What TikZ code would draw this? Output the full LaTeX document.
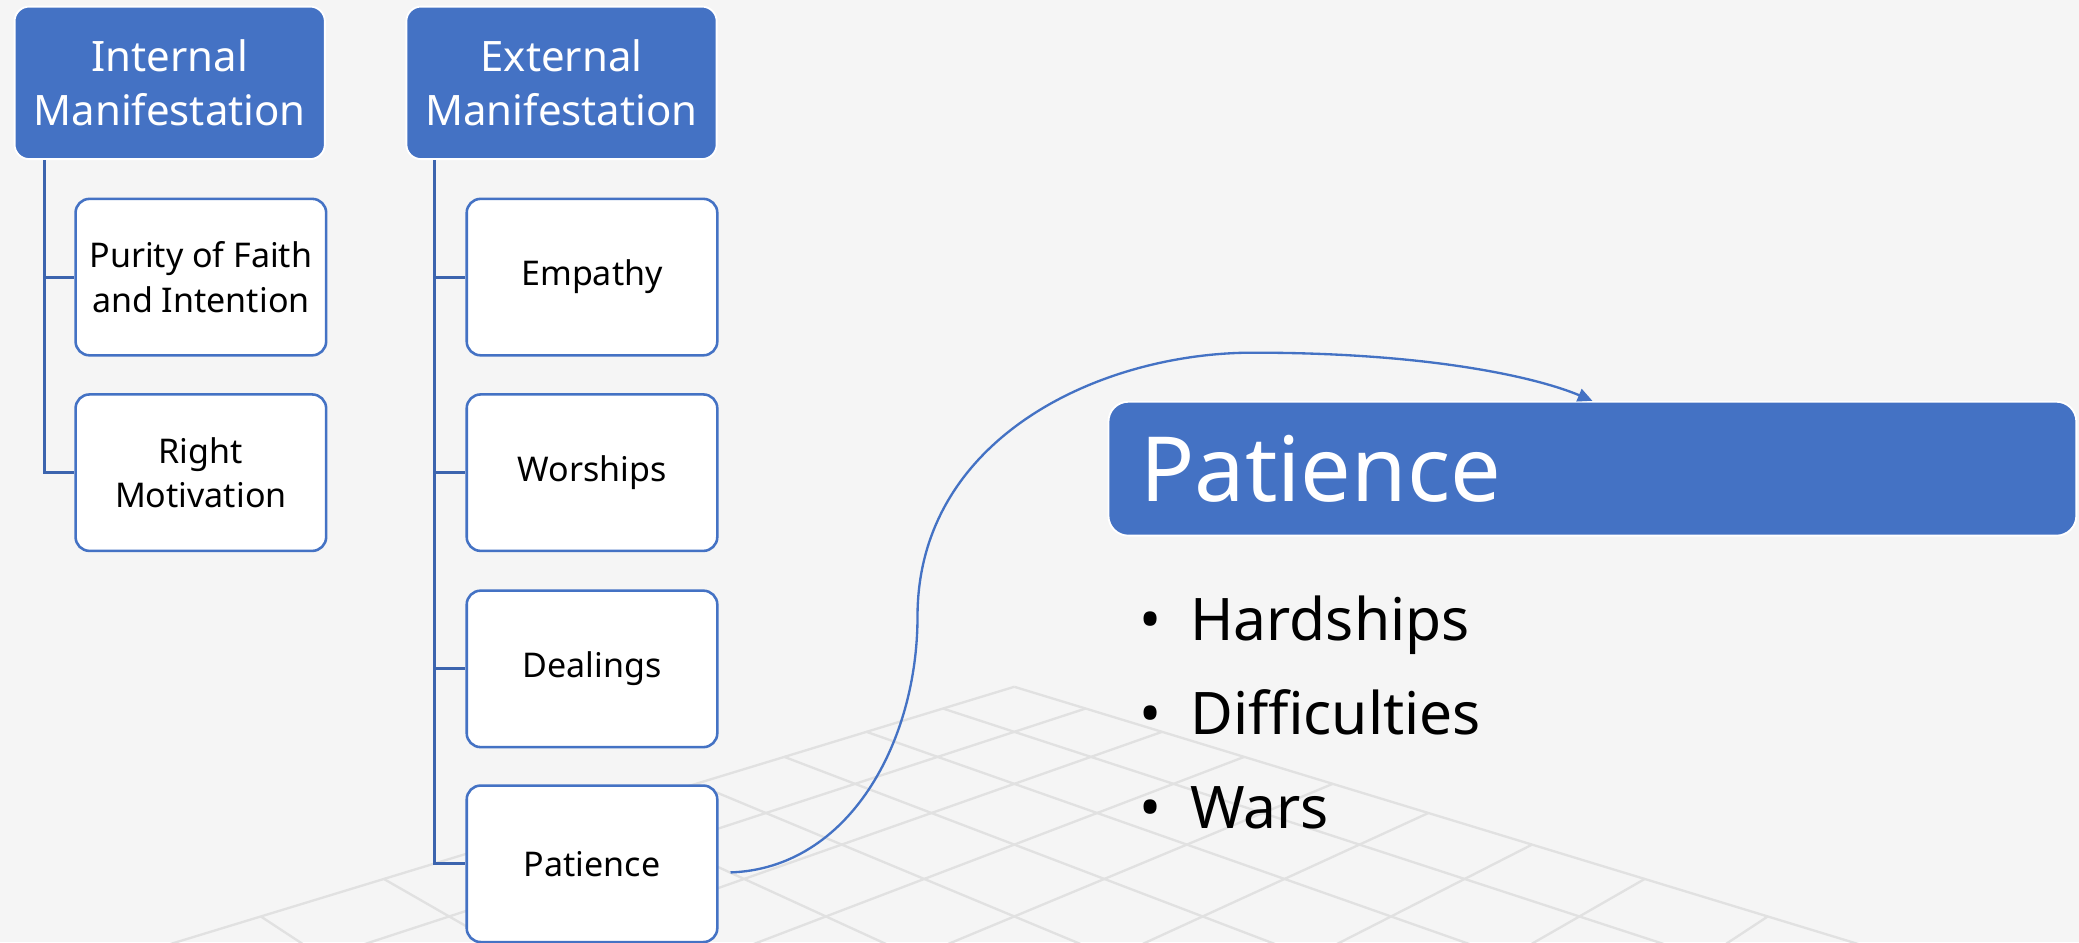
\documentclass[tikz,border=0pt]{standalone}
\usepackage{fontspec}
\setmainfont{Noto Sans}
\usetikzlibrary{arrows.meta}
\definecolor{hdblue}{HTML}{4472C4}
\definecolor{lnblue}{HTML}{3C64AE}
\definecolor{bggray}{HTML}{F5F5F5}
\definecolor{grdgray}{HTML}{E1E1E1}

\begin{document}
\begin{tikzpicture}[x=0.1mm, y=-0.1mm,
	headbox/.style={rectangle, rounded corners=1.1mm, fill=hdblue, draw=white, line width=0.4pt, text=white, align=center, minimum width=23.4mm, minimum height=11.5mm, font=\fontsize{9}{11.5}\selectfont},
	itembox/.style={rectangle, rounded corners=1.05mm, fill=white, draw=hdblue, line width=0.55pt, align=center, inner xsep=0.5mm, minimum width=18.9mm, minimum height=11.8mm, font=\fontsize{7.3}{9.6}\selectfont},
	bighead/.style={rectangle, rounded corners=1.5mm, fill=hdblue, draw=white, line width=0.4pt, text=white, align=left, minimum height=10.1mm, text width=68.2mm, inner xsep=2.4mm, font=\fontsize{19.3}{23}\selectfont},
	bulletline/.style={anchor=base west, inner sep=0pt, font=\fontsize{12.6}{16}\selectfont},
	treeline/.style={lnblue, line width=0.65pt},
	curveline/.style={hdblue, line width=0.5pt, -{Triangle[length=1.1mm, width=1mm]}},
	gridline/.style={grdgray, line width=0.5pt}]
			%%%%% START %%%%%
			\fill[bggray] (0, 0) rectangle (1568, 710.5);
			\useasboundingbox (0, 0) rectangle (1568, 710.5);
			
			\begin{scope}
				\clip (0, 0) rectangle (1568, 710.5);
				\foreach \n in {0,...,12}{
					\pgfmathsetmacro\wa{1-0.0335*\n}
					\pgfmathsetmacro\wb{1-0.0335*(\n+12)}
					\draw[gridline] ({765+52*\n/\wa}, {518+15.85*\n/\wa}) -- ({765+52*(\n-12)/\wb}, {518+15.85*(\n+12)/\wb});
					\draw[gridline] ({765-52*\n/\wa}, {518+15.85*\n/\wa}) -- ({765-52*(\n-12)/\wb}, {518+15.85*(\n+12)/\wb});
				}
			\end{scope}
			
			\node[headbox] (inthead) at (128, 62.5) {Internal\\Manifestation};
			\node[headbox] (exthead) at (423.5, 62.5) {External\\Manifestation};
			
			\node[itembox] (purity) at (151.5, 209) {Purity of Faith\\and Intention};
			\node[itembox] (motiv) at (151.5, 356.5) {Right\\Motivation};
			
			\node[itembox] (empathy) at (446.5, 209) {Empathy};
			\node[itembox] (worship) at (446.5, 356.5) {Worships};
			\node[itembox] (dealing) at (446.5, 504.5) {Dealings};
			\node[itembox] (patience) at (446.5, 651.5) {Patience};
			
			\draw[treeline] ([xshift=2.3mm]inthead.south west) |- (purity.west);
			\draw[treeline] ([xshift=2.3mm]inthead.south west) |- (motiv.west);
			\draw[treeline] ([xshift=2.2mm]exthead.south west) |- (empathy.west);
			\draw[treeline] ([xshift=2.2mm]exthead.south west) |- (worship.west);
			\draw[treeline] ([xshift=2.2mm]exthead.south west) |- (dealing.west);
			\draw[treeline] ([xshift=2.2mm]exthead.south west) |- (patience.west);
			
			\node[bighead] (bigpat) at (1201, 353.5) {Patience};
			
			\node[bulletline] (hard) at (859, 483.4) {\makebox[3.8mm][l]{\textbullet}Hardships};
			\node[bulletline] (diff) at (859, 554.3) {\makebox[3.8mm][l]{\textbullet}Difficulties};
			\node[bulletline] (wars) at (859, 624.5) {\makebox[3.8mm][l]{\textbullet}Wars};
			
			\coordinate (bendpt) at (692, 465);
			\coordinate (toppt) at (945, 266);
			\draw[curveline] ([shift={(9, 6.5)}]patience.east) .. controls (640, 655) and (692, 560) .. (bendpt) .. controls (692, 330) and (830, 266) .. (toppt) .. controls (1080, 266) and (1160, 285) .. (bigpat.north);
			%%%%% END %%%%%
		\end{tikzpicture}
\end{document}
